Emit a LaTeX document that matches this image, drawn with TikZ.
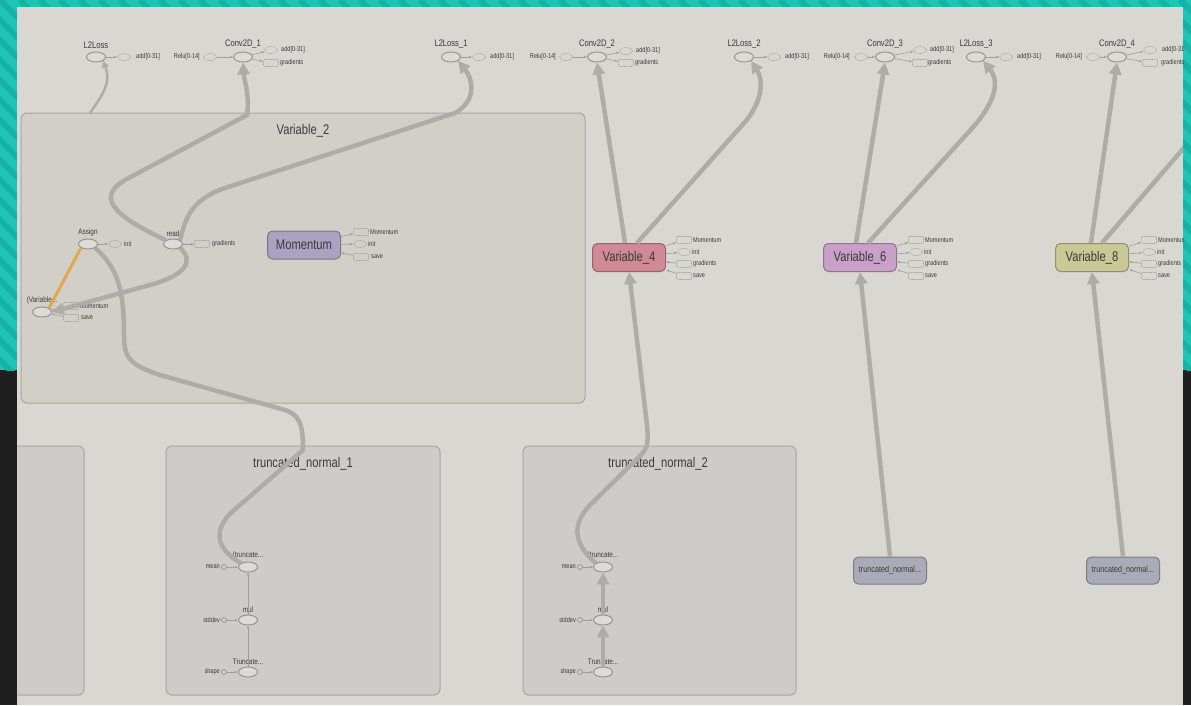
\documentclass[tikz,border=0pt]{standalone}
\usepackage{fontspec}
\setmainfont{Liberation Sans}[FakeStretch=0.8]
\usetikzlibrary{shapes.geometric,arrows.meta}
\definecolor{teal1}{HTML}{1EC5B5}
\definecolor{teal2}{HTML}{16B2A4}
\definecolor{darkbg}{HTML}{1F1F1F}
\definecolor{panel}{HTML}{D9D7D2}
\definecolor{grpfill}{HTML}{D2CFC8}
\definecolor{tnfill}{HTML}{CDCCCB}
\definecolor{grpline}{HTML}{A8A6A1}
\definecolor{opline}{HTML}{908E8A}
\definecolor{opfill}{HTML}{DDDBD6}
\definecolor{stubline}{HTML}{A09E9A}
\definecolor{flowc}{HTML}{AEACA7}
\definecolor{txt}{HTML}{3A3A3A}
\definecolor{momfill}{HTML}{A9A2C1}
\definecolor{v4fill}{HTML}{CF8A96}
\definecolor{v6fill}{HTML}{C8A0C8}
\definecolor{v8fill}{HTML}{C9C896}
\definecolor{tnsmall}{HTML}{A9ABB8}
\definecolor{refc}{HTML}{E4A652}
\tikzset{
    op/.style={ellipse,draw=opline,fill=opfill,line width=0.9pt,
        minimum width=19pt,minimum height=10pt,inner sep=0pt},
    oplab/.style={label={[font=\fontsize{9.5}{10}\selectfont,text=txt,
        inner sep=0pt,label distance=2.5pt]above:#1}},
    inlab/.style={label={[font=\fontsize{8}{9}\selectfont,text=txt,
        inner sep=0pt,label distance=2pt]above:#1}},
    stubE/.style={ellipse,draw=stubline,dash pattern=on 1pt off 0.8pt,
        line width=0.6pt,minimum width=13pt,minimum height=7pt,inner sep=0pt},
    stubR/.style={rectangle,rounded corners=1pt,draw=stubline,
        dash pattern=on 1pt off 0.8pt,line width=0.6pt,
        minimum width=15pt,minimum height=7pt,inner sep=0pt},
    stubT/.style={font=\fontsize{7}{8}\selectfont,text=txt,inner sep=0pt,anchor=west},
    tinyE/.style={circle,draw=opline,line width=0.6pt,minimum size=5pt,inner sep=0pt},
    aux/.style={draw=stubline,line width=0.6pt,-{Latex[length=3pt,width=2.5pt]}},
    flow/.style={draw=flowc,line width=4.5pt},
    flowtip/.style={-{Triangle[length=12pt,width=12pt]}},
    group/.style={draw=grpline,line width=1pt,rounded corners=6pt},
    grptitle/.style={font=\fontsize{14}{15}\selectfont,text=txt,inner sep=0pt},
    varbox/.style={rectangle,rounded corners=5pt,fill=#1,draw=#1!72!black,
        line width=1pt,minimum width=73pt,minimum height=28pt,inner sep=0pt,
        font=\fontsize{14}{15}\selectfont,text=txt},
    tnbox/.style={rectangle,rounded corners=5pt,fill=tnsmall,draw=tnsmall!72!black,
        line width=1pt,minimum width=73pt,minimum height=27pt,inner sep=0pt,
        font=\fontsize{9}{10}\selectfont,text=txt},
}

\begin{document}
\begin{tikzpicture}[x=1pt,y=-1pt]
% screen frame
\fill[darkbg] (0,0) rectangle (1191,705);
\fill[teal1] (0,0) rectangle (1191,370);
\begin{scope}
    \clip (0,0) rectangle (1191,370);
    \foreach \s in {-380,-360,...,1200}
        \draw[teal2,line width=6pt] (\s,0) -- ++(380,380);
\end{scope}
\fill[panel] (17,7) rectangle (1183,705);
\useasboundingbox (0,0) rectangle (1191,705);

\begin{scope}
\clip (17,7) rectangle (1183,705);

% groups
\draw[group,fill=grpfill] (21,113) rectangle (585,403);
\node[grptitle] (var2title) at (303,131) {Variable\_2};
\draw[group,fill=tnfill] (5,446) rectangle (84,695);
\draw[group,fill=tnfill] (166,446) rectangle (440,695);
\node[grptitle] (tn1title) at (303,464) {truncated\_normal\_1};
\draw[group,fill=tnfill] (523,446) rectangle (796,695);
\node[grptitle] (tn2title) at (658,464) {truncated\_normal\_2};

% top row
\node[op,oplab=L2Loss] (l2l0) at (96,57) {};
\node[stubE] (l2l0add) at (124,57) {};
\node[stubT] (l2l0addt) at (136,57) {add[0-31]};

\node[stubT,anchor=east] (c1relut) at (200,57) {Relu[0-14]};
\node[stubE] (c1relu) at (210,57) {};
\node[op,oplab=Conv2D\_1] (conv1) at (243,57) {};
\node[stubE] (c1add) at (271,50) {};
\node[stubT] (c1addt) at (281,50) {add[0-31]};
\node[stubR] (c1grd) at (271,63) {};
\node[stubT] (c1grdt) at (280,63) {gradients};

\node[op,oplab=L2Loss\_1] (l2l1) at (451,57) {};
\node[stubE] (l2l1add) at (479,57) {};
\node[stubT] (l2l1addt) at (490,57) {add[0-31]};

\node[stubT,anchor=east] (c2relut) at (556,57) {Relu[0-14]};
\node[stubE] (c2relu) at (566,57) {};
\node[op,oplab=Conv2D\_2] (conv2) at (597,57) {};
\node[stubE] (c2add) at (626,51) {};
\node[stubT] (c2addt) at (636,51) {add[0-31]};
\node[stubR] (c2grd) at (626,63) {};
\node[stubT] (c2grdt) at (635,63) {gradients};

\node[op,oplab=L2Loss\_2] (l2l2) at (744,57) {};
\node[stubE] (l2l2add) at (774,57) {};
\node[stubT] (l2l2addt) at (785,57) {add[0-31]};

\node[stubT,anchor=east] (c3relut) at (850,57) {Relu[0-14]};
\node[stubE] (c3relu) at (861,57) {};
\node[op,oplab=Conv2D\_3] (conv3) at (885,57) {};
\node[stubE] (c3add) at (920,50) {};
\node[stubT] (c3addt) at (930,50) {add[0-31]};
\node[stubR] (c3grd) at (920,63) {};
\node[stubT] (c3grdt) at (928,63) {gradients};

\node[op,oplab=L2Loss\_3] (l2l3) at (976,57) {};
\node[stubE] (l2l3add) at (1006,57) {};
\node[stubT] (l2l3addt) at (1017,57) {add[0-31]};

\node[stubT,anchor=east] (c4relut) at (1082,57) {Relu[0-14]};
\node[stubE] (c4relu) at (1093,57) {};
\node[op,oplab=Conv2D\_4] (conv4) at (1117,57) {};
\node[stubE] (c4add) at (1150,50) {};
\node[stubT] (c4addt) at (1162,50) {add[0-31]};
\node[stubR] (c4grd) at (1150,63) {};
\node[stubT] (c4grdt) at (1161,63) {gradients};

\foreach \a/\b in {l2l0/l2l0add,c1relu/conv1,conv1/c1add,conv1/c1grd,
    l2l1/l2l1add,c2relu/conv2,conv2/c2add,conv2/c2grd,
    l2l2/l2l2add,c3relu/conv3,conv3/c3add,conv3/c3grd,
    l2l3/l2l3add,c4relu/conv4,conv4/c4add,conv4/c4grd}
    \draw[aux] (\a) -- (\b);

% inside Variable_2
\node[op,inlab=Assign] (assign) at (88,244) {};
\node[stubE] (asinit) at (115,244) {};
\node[stubT] (asinitt) at (124,244) {init};
\node[op,inlab=read] (read) at (173,244) {};
\node[stubR] (rdgrd) at (202,244) {};
\node[stubT] (rdgrdt) at (212,244) {gradients};
\node[varbox=momfill] (mom) at (304,245) {Momentum};
\node[stubR] (mommom) at (361,232) {};
\node[stubT] (mommomt) at (370,232) {Momentum};
\node[stubE] (mominit) at (360,244) {};
\node[stubT] (mominitt) at (368,244) {init};
\node[stubR] (momsave) at (361,257) {};
\node[stubT] (momsavet) at (371,257) {save};
\node[op,inlab=(Variable...] (varop) at (42,312) {};
\node[stubR] (varmom) at (71,306) {};
\node[stubT] (varmomt) at (80,306) {Momentum};
\node[stubR] (varsave) at (71,318) {};
\node[stubT] (varsavet) at (81,318) {save};
\draw[aux] (assign) -- (asinit);
\draw[aux] (read) -- (rdgrd);
\draw[aux] (mom) -- (mommom);
\draw[aux] (mom) -- (mominit);
\draw[aux] (momsave) -- (mom);
\draw[aux] (varmom) -- (varop);
\draw[aux] (varsave) -- (varop);

% variables
\node[varbox=v4fill] (v4) at (629,257.5) {Variable\_4};
\node[varbox=v6fill] (v6) at (860,257.5) {Variable\_6};
\node[varbox=v8fill] (v8) at (1092,257.5) {Variable\_8};
\foreach \v/\c in {v4/684,v6/916,v8/1149} {
    \node[stubR] (\v mom) at (\c,240) {};
    \node[stubE] (\v ini) at (\c,252) {};
    \node[stubR] (\v grd) at (\c,264) {};
    \node[stubR] (\v sav) at (\c,276) {};
    \node[stubT] (\v momt) at (\c+9,240) {Momentum};
    \node[stubT] (\v init) at (\c+8,252) {init};
    \node[stubT] (\v grdt) at (\c+9,264) {gradients};
    \node[stubT] (\v savt) at (\c+9,276) {save};
    \draw[aux] (\v) -- (\v mom);
    \draw[aux] (\v) -- (\v ini);
    \draw[aux] (\v grd) -- (\v);
    \draw[aux] (\v sav) -- (\v);
}
\node[tnbox] (tn6) at (890,570.5) {truncated\_normal...};
\node[tnbox] (tn8) at (1123,570.5) {truncated\_normal...};

% truncated_normal groups
\node[op,inlab=(truncate...] (tn1m) at (248,567) {};
\node[op,inlab=mul] (tn1mul) at (248,620) {};
\node[op,inlab=Truncate...] (tn1s) at (248,672) {};
\node[op,inlab=(truncate...] (tn2m) at (603,567) {};
\node[op,inlab=mul] (tn2mul) at (603,620) {};
\node[op,inlab=Truncate...] (tn2s) at (603,672) {};
\foreach \g/\x in {tn1/224,tn2/580} {
    \node[tinyE] (\g mean) at (\x,567) {};
    \node[tinyE] (\g sd) at (\x,620) {};
    \node[tinyE] (\g shp) at (\x,672) {};
    \node[stubT,anchor=east] (\g meant) at (\x-4,567) {mean};
    \node[stubT,anchor=east] (\g sdt) at (\x-4,620) {stddev};
    \node[stubT,anchor=east] (\g shpt) at (\x-4,672) {shape};
    \draw[aux] (\g mean) -- (\g m);
    \draw[aux] (\g sd) -- (\g mul);
    \draw[aux] (\g shp) -- (\g s);
}
\draw[aux] (tn1s) -- (tn1mul);
\draw[aux] (tn1mul) -- (tn1m);
\draw[flow,line width=3.5pt,-{Triangle[length=12pt,width=12pt]}] (tn2s) -- (tn2mul);
\draw[flow,line width=3.5pt,-{Triangle[length=12pt,width=12pt]}] (tn2mul) -- (tn2m);

% data flow
\coordinate (v2top) at (90,113);
\coordinate (v8out) at (1195,135);
\draw[flowc,line width=2.5pt,-{Triangle[length=7pt,width=7pt]}]
    (v2top) .. controls (100,98) and (112,84) .. (l2l0.south east);
\draw[flow,flowtip] (read.north west) .. controls (105,212) and (100,195) .. (125,180)
    -- (247,115) .. controls (250,95) and (244,80) .. (conv1.south);
\draw[flow,flowtip] (read.north east) .. controls (185,220) and (190,200) .. (225,188)
    -- (455,113) .. controls (478,100) and (472,78) .. (l2l1.south east);
\draw[flow,flowtip] (read.south east) .. controls (195,262) and (185,275) .. (150,285)
    -- (varop.east);
\draw[refc,line width=3pt] (assign.south west) -- (varop.north east);
\draw[flow] (assign.south east) .. controls (118,268) and (124,290) .. (124,335)
    .. controls (124,358) and (130,365) .. (160,375) -- (285,410)
    .. controls (300,415) and (303,425) .. (303,450)
    -- (240,505) .. controls (210,528) and (215,548) .. (tn1m.north west);
\draw[flow,flowtip] (tn2m.north west) .. controls (578,548) and (568,528) .. (590,505)
    -- (641,455) .. controls (649,446) and (648,440) .. (647,425) -- (v4.south);
\draw[flow,flowtip] ([xshift=-4pt]v4.north) -- (conv2.south);
\draw[flow,flowtip] ([xshift=8pt]v4.north) -- (745,122)
    .. controls (765,98) and (762,78) .. (l2l2.south east);
\draw[flow,flowtip] ([xshift=-4pt]v6.north) -- (conv3.south);
\draw[flow,flowtip] ([xshift=8pt]v6.north) -- (975,125)
    .. controls (1000,95) and (997,78) .. (l2l3.south east);
\draw[flow,flowtip] ([xshift=-1pt]v8.north) -- (conv4.south);
\draw[flow] ([xshift=10pt]v8.north) -- (v8out);
\draw[flow,flowtip] (tn6.north) -- (v6.south);
\draw[flow,flowtip] (tn8.north) -- (v8.south);
\end{scope}
\end{tikzpicture}
\end{document}
